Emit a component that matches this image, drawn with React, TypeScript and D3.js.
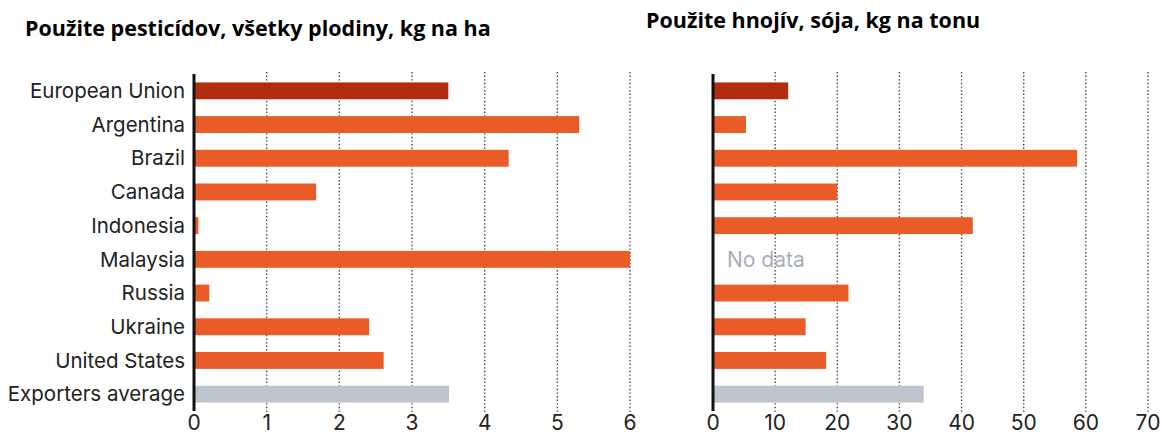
import { useEffect } from "react";
import * as d3 from "d3";

// Kategórie (krajiny) a hodnoty z grafu
const countries = [
  "European Union",
  "Argentina",
  "Brazil",
  "Canada",
  "Indonesia",
  "Malaysia",
  "Russia",
  "Ukraine",
  "United States",
  "Exporters average",
];
const pesticides = [3.5, 5.3, 4.33, 1.68, 0.06, 6.0, 0.21, 2.41, 2.61, 3.51];
const fertilizer: (number | null)[] = [12.1, 5.3, 58.6, 20.0, 41.8, null, 21.8, 14.9, 18.2, 33.9];
const pestTicks = [0, 1, 2, 3, 4, 5, 6];
const fertTicks = [0, 10, 20, 30, 40, 50, 60, 70];
const titles = [
  "Použite pesticídov, všetky plodiny, kg na ha",
  "Použite hnojív, sója, kg na tonu",
];

const W = 1162;
const H = 435;
const FONT = "Inter, 'Open Sans', sans-serif";

const colorFor = (name: string) =>
  name === "European Union" ? "#b22c12" : name === "Exporters average" ? "#bcc4cd" : "#e95b27";

const y = d3.scaleBand<string>().domain(countries).range([74, 411]).paddingInner(0.5).paddingOuter(0.25);

function Panel({
  values,
  ticks,
  x,
}: {
  values: (number | null)[];
  ticks: number[];
  x: d3.ScaleLinear<number, number>;
}) {
  const x0 = x(0);
  return (
    <g>
      {/* mriežka */}
      {ticks.slice(1).map((t) => (
        <line
          key={t}
          x1={x(t)}
          x2={x(t)}
          y1={72}
          y2={413}
          stroke="#444"
          strokeWidth={1.4}
          strokeDasharray="1.4,2.2"
        />
      ))}
      {countries.map((c, i) => {
        const v = values[i];
        if (v == null)
          return (
            <text
              key={c}
              x={x0 + 14}
              y={(y(c) ?? 0) + y.bandwidth() / 2}
              dy="0.35em"
              fill="#a7aeb8"
              fontSize={21}
              fontFamily={FONT}
            >
              No data
            </text>
          );
        return (
          <rect
            key={c}
            x={x0}
            y={y(c)}
            width={x(v) - x0}
            height={y.bandwidth()}
            fill={colorFor(c)}
          />
        );
      })}
      <line x1={x0} x2={x0} y1={74} y2={411} stroke="#111" strokeWidth={3} />
      {ticks.map((t) => (
        <text
          key={t}
          x={x(t)}
          y={430}
          textAnchor="middle"
          fontSize={21}
          fill="#222"
          fontFamily={FONT}
        >
          {t}
        </text>
      ))}
    </g>
  );
}

export default function App() {
  useEffect(() => {
    document.body.style.margin = "0";
  }, []);

  const xLeft = d3.scaleLinear().domain([0, 6]).range([194, 630]);
  const xRight = d3.scaleLinear().domain([0, 70]).range([713, 1148]);

  return (
    <svg width={W} height={H} style={{ display: "block", background: "#fff" }}>
      <text x={25} y={36} fontSize={21.5} fontWeight="bold" fontFamily="'Open Sans', sans-serif" fill="#000">
        {titles[0]}
      </text>
      <text x={646} y={28} fontSize={21.5} fontWeight="bold" fontFamily="'Open Sans', sans-serif" fill="#000">
        {titles[1]}
      </text>

      {/* názvy krajín */}
      {countries.map((c) => (
        <text
          key={c}
          x={185}
          y={(y(c) ?? 0) + y.bandwidth() / 2}
          dy="0.35em"
          textAnchor="end"
          fontSize={20.5}
          fill="#222"
          fontFamily={FONT}
        >
          {c}
        </text>
      ))}

      <Panel values={pesticides} ticks={pestTicks} x={xLeft} />
      <Panel values={fertilizer} ticks={fertTicks} x={xRight} />
    </svg>
  );
}
